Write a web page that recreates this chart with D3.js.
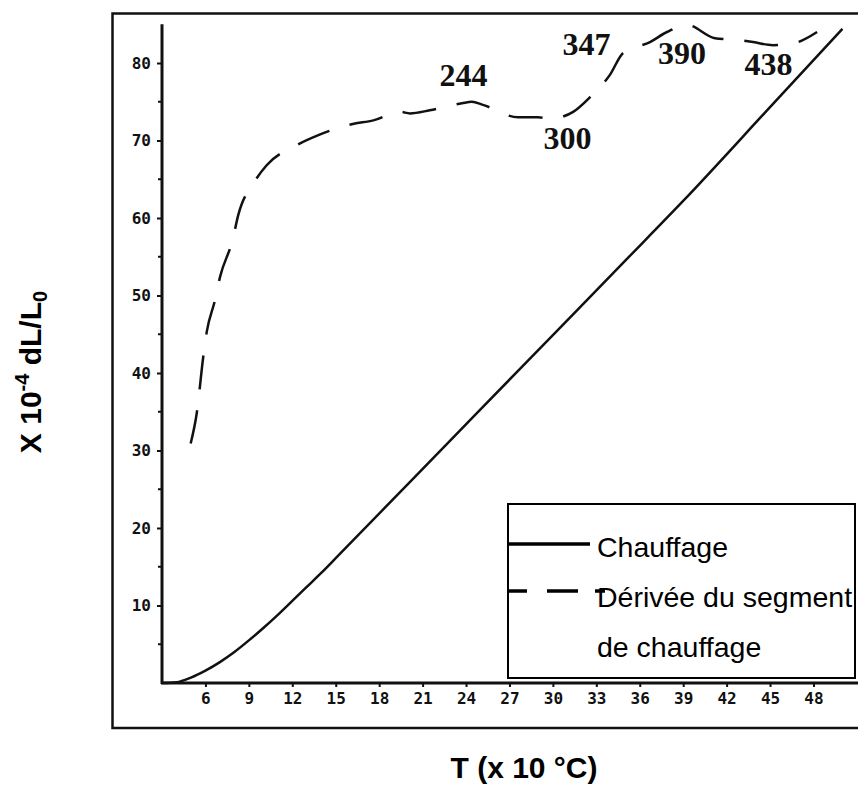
<!DOCTYPE html>
<html>
<head>
<meta charset="utf-8">
<script src="https://cdn.jsdelivr.net/npm/d3@7"></script>
<style>
  body { margin: 0; background: #fff; }
  svg { display: block; }
</style>
</head>
<body>
<div id="chart"></div>
<script>
// Heating dilatometry: expansion curve and its derivative
const heatT  = [3, 4, 5, 6, 7, 8, 9, 10, 11, 12, 13, 14, 15, 20, 25, 30, 35, 39, 45, 50];
const heatDL = [0, 0.1, 0.7, 1.6, 2.7, 4.0, 5.5, 7.1, 8.8, 10.6, 12.4, 14.2, 16.1, 25.7, 35.3, 44.9, 54.5, 62.2, 74.3, 84.4];

const derivT  = [4.98, 5.4, 5.85, 6.09, 6.66, 7.01, 7.88, 8.27, 9.36, 10.23, 12.3, 13.8, 16.1, 17.6, 19.44,
                 20.13, 21.5, 23.72, 24.4, 25.17, 27.59, 28.97, 29.8, 31.4, 32.57, 33.95, 34.85, 36.71,
                 37.88, 39.27, 41.2, 42.58, 43.83, 45.2, 46.73, 48.25];
const derivDL = [30.9, 34.8, 42.1, 45.3, 49.4, 52.4, 57.2, 60.4, 64.6, 66.8, 69.4, 70.7, 72.1, 72.6, 73.7,
                 73.5, 73.9, 74.8, 75.0, 74.6, 73.0, 73.0, 72.8, 73.7, 75.6, 78.5, 81.3, 82.7,
                 84.0, 84.9, 83.2, 83.0, 82.7, 82.3, 82.6, 84.0];

// temperatures (°C) marked on the derivative, anchored in data units
const peakLabels = ["244", "300", "347", "390", "438"];
const peakT  = [23.83, 31.01, 32.32, 38.92, 44.9];
const peakDL = [77.0, 68.9, 81.0, 79.9, 78.45];

const xTicks = [6, 9, 12, 15, 18, 21, 24, 27, 30, 33, 36, 39, 42, 45, 48];
const yTicks = [10, 20, 30, 40, 50, 60, 70, 80];
const yMinor = [5, 15, 25, 35, 45, 55, 65, 75];

const legendItems = ["Chauffage", "Dérivée du segment", "de chauffage"];

const width = 858, height = 787;

const svg = d3.select("#chart")
  .append("svg")
  .attr("width", width)
  .attr("height", height);

const x = d3.scaleLinear().domain([3, 51]).range([162, 856.9]);
const y = d3.scaleLinear().domain([0, 85]).range([683, 24.25]);

// outer frame, open on the right side of the page
svg.append("rect")
  .attr("x", 112.5)
  .attr("y", 13.5)
  .attr("width", 800)
  .attr("height", 714.5)
  .attr("fill", "none")
  .attr("stroke", "#111")
  .attr("stroke-width", 2.5);

const tickFont = "'DejaVu Sans Mono', monospace";

// y axis
const yAxis = svg.append("g")
  .attr("transform", `translate(${x(3)},0)`)
  .call(d3.axisLeft(y).tickValues(yTicks).tickSize(5).tickPadding(6).tickFormat(d3.format("d")));
yAxis.select(".domain").remove();
yAxis.selectAll(".tick line").attr("stroke", "#111").attr("stroke-width", 2);
yAxis.selectAll(".tick text")
  .attr("font-family", tickFont)
  .attr("font-weight", "bold")
  .attr("font-size", 16)
  .attr("fill", "#111");

svg.append("g")
  .selectAll("line")
  .data(yMinor)
  .join("line")
  .attr("x1", x(3) - 4)
  .attr("x2", x(3))
  .attr("y1", d => y(d))
  .attr("y2", d => y(d))
  .attr("stroke", "#111")
  .attr("stroke-width", 2);

svg.append("line")
  .attr("x1", x(3))
  .attr("x2", x(3))
  .attr("y1", y(0) + 1)
  .attr("y2", y(85))
  .attr("stroke", "#111")
  .attr("stroke-width", 3);

// x axis
const xAxis = svg.append("g")
  .attr("transform", `translate(0,${y(0)})`)
  .call(d3.axisBottom(x).tickValues(xTicks).tickSize(4).tickPadding(6).tickFormat(d3.format("d")));
xAxis.select(".domain").remove();
xAxis.selectAll(".tick line").attr("stroke", "#111").attr("stroke-width", 2);
xAxis.selectAll(".tick text")
  .attr("font-family", tickFont)
  .attr("font-weight", "bold")
  .attr("font-size", 16)
  .attr("fill", "#111");

svg.append("line")
  .attr("x1", x(3) - 1)
  .attr("x2", width)
  .attr("y1", y(0))
  .attr("y2", y(0))
  .attr("stroke", "#111")
  .attr("stroke-width", 3);

// curves
const line = d3.line()
  .x(d => x(d[0]))
  .y(d => y(d[1]))
  .curve(d3.curveMonotoneX);

svg.append("path")
  .datum(d3.zip(heatT, heatDL))
  .attr("d", line)
  .attr("fill", "none")
  .attr("stroke", "#111")
  .attr("stroke-width", 2.5);

svg.append("path")
  .datum(d3.zip(derivT, derivDL))
  .attr("d", line)
  .attr("fill", "none")
  .attr("stroke", "#111")
  .attr("stroke-width", 2.5)
  .attr("stroke-dasharray", "34,21");

// temperature marks on the derivative
svg.append("g")
  .selectAll("text")
  .data(peakLabels)
  .join("text")
  .attr("x", (d, i) => x(peakT[i]))
  .attr("y", (d, i) => y(peakDL[i]))
  .attr("text-anchor", "middle")
  .attr("font-family", "'Liberation Serif', 'Times New Roman', serif")
  .attr("font-weight", "bold")
  .attr("font-size", 32)
  .attr("fill", "#111")
  .text(d => d);

// legend
const legend = svg.append("g");
legend.append("rect")
  .attr("x", 508)
  .attr("y", 504)
  .attr("width", 347)
  .attr("height", 174)
  .attr("fill", "#fff")
  .attr("stroke", "#000")
  .attr("stroke-width", 2);

legend.append("line")
  .attr("x1", 508).attr("x2", 590)
  .attr("y1", 544).attr("y2", 544)
  .attr("stroke", "#000")
  .attr("stroke-width", 3.5);

legend.append("line")
  .attr("x1", 508).attr("x2", 605)
  .attr("y1", 591).attr("y2", 591)
  .attr("stroke", "#000")
  .attr("stroke-width", 3.5)
  .attr("stroke-dasharray", "19,20,31,17");

legend.selectAll("text")
  .data(legendItems)
  .join("text")
  .attr("x", 597)
  .attr("y", (d, i) => 557 + i * 50)
  .attr("font-family", "'Liberation Sans', Arial, sans-serif")
  .attr("font-size", 28.5)
  .attr("fill", "#000")
  .text(d => d);

// axis titles
const yTitle = svg.append("text")
  .attr("transform", "translate(41,372) rotate(-90)")
  .attr("text-anchor", "middle")
  .attr("font-family", "'Liberation Sans', Arial, sans-serif")
  .attr("font-weight", "bold")
  .attr("font-size", 30)
  .attr("fill", "#000");
yTitle.append("tspan").text("X 10");
yTitle.append("tspan").attr("dy", -12).attr("font-size", 20).text("-4");
yTitle.append("tspan").attr("dy", 12).text(" dL/L");
yTitle.append("tspan").attr("dy", 6).attr("font-size", 20).text("0");

svg.append("text")
  .attr("x", 524)
  .attr("y", 778)
  .attr("text-anchor", "middle")
  .attr("font-family", "'Liberation Sans', Arial, sans-serif")
  .attr("font-weight", "bold")
  .attr("font-size", 30)
  .attr("fill", "#000")
  .text("T (x 10 °C)");
</script>
</body>
</html>
